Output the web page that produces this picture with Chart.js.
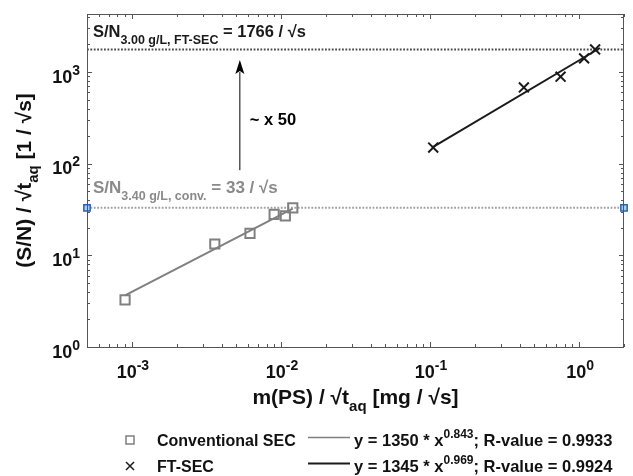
<!DOCTYPE html>
<html>
<head>
<meta charset="utf-8">
<script src="https://cdn.jsdelivr.net/npm/chart.js@4"></script>
<style>
  html, body { margin: 0; padding: 0; background: #fff; }
  canvas { display: block; }
</style>
</head>
<body>
<canvas id="chartSN" width="633" height="476"></canvas>
<script>
// Data
const convX = [9.0e-4, 3.6e-3, 6.2e-3, 9.0e-3, 1.07e-2, 1.2e-2];
const convY = [3.26, 13.3, 17.4, 28, 27, 33];
const ftX = [0.105, 0.426, 0.751, 1.08, 1.28];
const ftY = [150, 680, 890, 1410, 1766];

// fit lines (end points)
const convFitX = [9.0e-4, 1.2e-2];
const convFitY = [3.65, 32.4];
const ftFitX = [0.103, 1.38];
const ftFitY = [150, 1830];

// reference levels
const refFT = 1766;
const refConv = 33;

// arrow "~ x 50"
const arrowX = 5.3e-3;
const arrowY = [85, 1000, 1350]; // start, head base, tip

const xRange = [5e-4, 2];
const yRange = [1, 4300];
const xTicks = [1e-3, 1e-2, 1e-1, 1];
const xTickExp = ["-3", "-2", "-1", "0"];
const yTicks = [1, 10, 100, 1000];
const yTickExp = ["0", "1", "2", "3"];

const FONT = '"Liberation Sans", Arial, Helvetica, sans-serif';
const grayClr = "#808080";
const darkClr = "#1a1a1a";

function pts(xs, ys) {
    return xs.map((x, i) => ({ x: x, y: ys[i] }));
}

// draw text made of runs (for sub / superscripts)
function drawRuns(ctx, runs, x, y, align) {
    let total = 0;
    runs.forEach((r) => {
        ctx.font = (r.bold === false ? "" : "bold ") + r.size + "px " + FONT;
        r.w = ctx.measureText(r.t).width;
        total += r.w;
    });
    let cx = align === "center" ? x - total / 2 : align === "right" ? x - total : x;
    ctx.textAlign = "left";
    ctx.textBaseline = "alphabetic";
    runs.forEach((r) => {
        ctx.font = (r.bold === false ? "" : "bold ") + r.size + "px " + FONT;
        ctx.fillText(r.t, cx, y + (r.dy || 0));
        cx += r.w;
    });
}

const decorPlugin = {
    id: "decor",
    beforeDraw(chart) {
        const ctx = chart.ctx;
        ctx.save();
        ctx.fillStyle = "#fff";
        ctx.fillRect(0, 0, chart.width, chart.height);
        ctx.restore();
    },
    afterDraw(chart) {
        const ctx = chart.ctx;
        const a = chart.chartArea;
        const xs = chart.scales.x;
        const ys = chart.scales.y;
        ctx.save();

        // arrow head
        const ax = xs.getPixelForValue(arrowX);
        const tipY = ys.getPixelForValue(arrowY[2]);
        ctx.fillStyle = "#000";
        ctx.beginPath();
        ctx.moveTo(ax, tipY);
        ctx.lineTo(ax + 4.5, tipY + 14);
        ctx.lineTo(ax, tipY + 11);
        ctx.lineTo(ax - 4.5, tipY + 14);
        ctx.closePath();
        ctx.fill();

        // box
        ctx.strokeStyle = "#555";
        ctx.lineWidth = 1;
        ctx.strokeRect(a.left + 0.5, a.top + 0.5, a.right - a.left - 1, a.bottom - a.top);

        // ticks (major + minor), inward on all sides
        ctx.beginPath();
        for (let d = -4; d <= 1; d++) {
            for (let m = 1; m <= 9; m++) {
                const v = m * Math.pow(10, d);
                if (v < xRange[0] || v > xRange[1]) continue;
                const len = m === 1 ? 5 : 3;
                const px = Math.round(xs.getPixelForValue(v)) + 0.5;
                ctx.moveTo(px, a.bottom);
                ctx.lineTo(px, a.bottom - len);
                ctx.moveTo(px, a.top);
                ctx.lineTo(px, a.top + len);
            }
        }
        for (let d = 0; d <= 3; d++) {
            for (let m = 1; m <= 9; m++) {
                const v = m * Math.pow(10, d);
                if (v < yRange[0] || v > yRange[1]) continue;
                const len = m === 1 ? 5 : 3;
                const py = Math.round(ys.getPixelForValue(v)) + 0.5;
                ctx.moveTo(a.left, py);
                ctx.lineTo(a.left + len, py);
                ctx.moveTo(a.right, py);
                ctx.lineTo(a.right - len, py);
            }
        }
        ctx.stroke();

        // tick labels
        ctx.fillStyle = "#111";
        xTicks.forEach((v, i) => {
            const px = xs.getPixelForValue(v);
            drawRuns(ctx, [
                { t: "10", size: 18 },
                { t: xTickExp[i], size: 14, dy: -8 },
            ], px + 1, 378, "center");
        });
        yTicks.forEach((v, i) => {
            const py = ys.getPixelForValue(v);
            drawRuns(ctx, [
                { t: "10", size: 18 },
                { t: yTickExp[i], size: 14, dy: -8 },
            ], a.left - 7, py + 10.5, "right");
        });

        // axis titles
        drawRuns(ctx, [
            { t: "m(PS) / \u221At", size: 21 },
            { t: "aq", size: 15, dy: 7 },
            { t: " [mg / \u221As]", size: 21 },
        ], (a.left + a.right) / 2, 404, "center");

        ctx.save();
        ctx.translate(31, (a.top + a.bottom) / 2);
        ctx.rotate(-Math.PI / 2);
        drawRuns(ctx, [
            { t: "(S/N) / \u221At", size: 21 },
            { t: "aq", size: 15, dy: 7 },
            { t: " [1 / \u221As]", size: 21 },
        ], 0, 0, "center");
        ctx.restore();

        // annotations
        ctx.fillStyle = darkClr;
        drawRuns(ctx, [
            { t: "S/N", size: 16.5 },
            { t: "3.00 g/L, FT-SEC", size: 12.5, dy: 7 },
            { t: " = 1766 / \u221As", size: 16.5 },
        ], a.left + 6, 37, "left");

        ctx.fillStyle = "#8a8a8a";
        drawRuns(ctx, [
            { t: "S/N", size: 17 },
            { t: "3.40 g/L, conv.", size: 12.5, dy: 7 },
            { t: " = 33 / \u221As", size: 17 },
        ], a.left + 6, 193, "left");

        ctx.fillStyle = "#000";
        drawRuns(ctx, [{ t: "~ x 50", size: 16.5 }], ax + 10, 125, "left");

        // legend
        const rows = [
            { y: 446, name: "Conventional SEC", a: "1350", e: "0.843", r: "0.9933", clr: grayClr, lw: 1.5 },
            { y: 472, name: "FT-SEC", a: "1345", e: "0.969", r: "0.9924", clr: darkClr, lw: 2 },
        ];
        rows.forEach((row, i) => {
            const my = row.y - 6;
            ctx.strokeStyle = row.clr;
            ctx.lineWidth = 1.5;
            if (i === 0) {
                ctx.strokeRect(126, my - 4, 8, 8);
            } else {
                ctx.beginPath();
                ctx.moveTo(126, my - 4);
                ctx.lineTo(134, my + 4);
                ctx.moveTo(134, my - 4);
                ctx.lineTo(126, my + 4);
                ctx.stroke();
            }
            ctx.lineWidth = row.lw;
            ctx.beginPath();
            ctx.moveTo(308, row.y - 8.5);
            ctx.lineTo(350, row.y - 8.5);
            ctx.stroke();
            ctx.fillStyle = "#111";
            drawRuns(ctx, [{ t: row.name, size: 16 }], 157, row.y, "left");
            drawRuns(ctx, [
                { t: "y = " + row.a + " * x", size: 16.5 },
                { t: row.e, size: 12, dy: -8 },
                { t: "; R-value = " + row.r, size: 16.5 },
            ], 354, row.y, "left");
        });

        ctx.restore();
    },
};

new Chart(document.getElementById("chartSN").getContext("2d"), {
    type: "scatter",
    data: {
        datasets: [
            {
                label: "Conventional SEC",
                data: pts(convX, convY),
                showLine: false,
                pointStyle: "rect",
                pointRadius: 6.5,
                pointBorderWidth: 2,
                pointBorderColor: grayClr,
                pointBackgroundColor: "rgba(255,255,255,0)",
            },
            {
                label: "FT-SEC",
                data: pts(ftX, ftY),
                showLine: false,
                pointStyle: "crossRot",
                pointRadius: 7,
                pointBorderWidth: 2,
                pointBorderColor: darkClr,
            },
            {
                label: "conv fit",
                data: pts(convFitX, convFitY),
                showLine: true,
                pointRadius: 0,
                borderColor: grayClr,
                borderWidth: 2,
            },
            {
                label: "FT fit",
                data: pts(ftFitX, ftFitY),
                showLine: true,
                pointRadius: 0,
                borderColor: darkClr,
                borderWidth: 2,
            },
            {
                label: "S/N FT-SEC",
                data: pts(xRange, [refFT, refFT]),
                showLine: true,
                pointRadius: 0,
                borderColor: "#4a4a4a",
                borderWidth: 2,
                borderDash: [1.8, 1.6],
            },
            {
                label: "S/N conv",
                data: pts(xRange, [refConv, refConv]),
                showLine: true,
                pointStyle: "rect",
                pointRadius: 4.5,
                pointBorderWidth: 1.5,
                pointBorderColor: "#2b64a8",
                pointBackgroundColor: "#a9cdee",
                borderColor: "#a0a0a0",
                borderWidth: 2,
                borderDash: [1.8, 1.6],
                clip: false,
            },
            {
                label: "arrow",
                data: pts([arrowX, arrowX], [arrowY[0], arrowY[1]]),
                showLine: true,
                pointRadius: 0,
                borderColor: "#000",
                borderWidth: 1,
            },
        ],
    },
    options: {
        responsive: false,
        animation: false,
        events: [],
        layout: { padding: { left: 87, right: 1, top: 14, bottom: 129 } },
        scales: {
            x: { type: "logarithmic", min: xRange[0], max: xRange[1], display: false },
            y: { type: "logarithmic", min: yRange[0], max: yRange[1], display: false },
        },
        plugins: {
            legend: { display: false },
            tooltip: { enabled: false },
        },
    },
    plugins: [decorPlugin],
});
</script>
</body>
</html>
